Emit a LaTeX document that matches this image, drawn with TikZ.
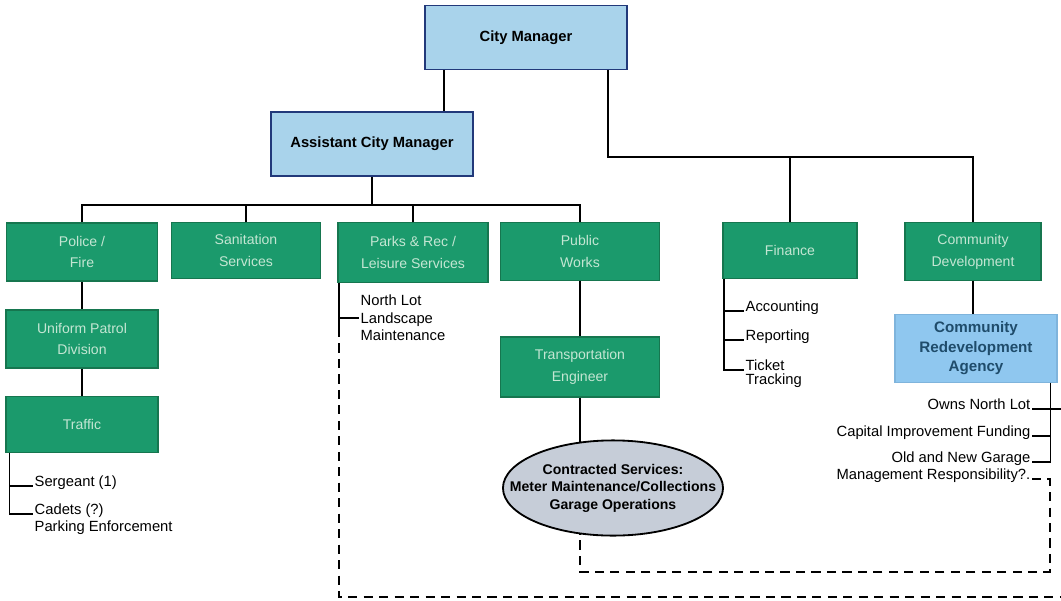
\documentclass[tikz,border=0pt]{standalone}
\usepackage{fontspec}
\setmainfont{Liberation Sans}
\usetikzlibrary{shapes.geometric, positioning, calc}

\definecolor{mgrblue}{HTML}{A9D3EB}
\definecolor{mgrborder}{HTML}{22397A}
\definecolor{deptgreen}{HTML}{1B9A6C}
\definecolor{deptborder}{HTML}{16764F}
\definecolor{depttext}{HTML}{C4E6D3}
\definecolor{agencyblue}{HTML}{8FC7EF}
\definecolor{agencyborder}{HTML}{7FB4DC}
\definecolor{agencytext}{HTML}{1F4C6B}
\definecolor{svcgrey}{HTML}{C6CDD8}

\tikzstyle{manager} = [rectangle, draw=mgrborder, line width=1.2pt, fill=mgrblue, minimum width=5.05cm, minimum height=1.6cm, text centered, font=\fontsize{10.5}{12}\selectfont\bfseries]
\tikzstyle{dept} = [rectangle, draw=deptborder, line width=0.8pt, fill=deptgreen, text=depttext, align=center, font=\fontsize{10}{15.5}\selectfont]
\tikzstyle{agency} = [rectangle, draw=agencyborder, line width=0.8pt, fill=agencyblue, text=agencytext, align=center, font=\fontsize{10.8}{13.8}\selectfont\bfseries]
\tikzstyle{contract} = [ellipse, draw=black, line width=1.3pt, fill=svcgrey, inner xsep=-0.65cm, inner ysep=0pt, align=center, font=\fontsize{10}{12.4}\selectfont\bfseries]
\tikzstyle{item} = [inner sep=1pt, font=\fontsize{10.5}{12.4}\selectfont]
\tikzstyle{conn} = [line width=1.1pt]
\tikzstyle{dashconn} = [line width=1.1pt, dash pattern=on 6.5pt off 4.5pt]

\begin{document}
\begin{tikzpicture}[x=0.025cm, y=-0.025cm]
        \useasboundingbox (0,0) rectangle (1061,600);

        % managers
        \node (cm) [manager] at (526,37.5) {City Manager};
        \node (acm) [manager] at (372,144) {Assistant City Manager};

        % departments
        \node (police) [dept, minimum width=3.78cm, minimum height=1.45cm] at (82,252) {Police /\\Fire};
        \node (sanitation) [dept, minimum width=3.73cm, minimum height=1.38cm] at (246,250.5) {Sanitation\\Services};
        \node (parks) [dept, minimum width=3.75cm, minimum height=1.48cm] at (413,252.5) {Parks \& Rec /\\Leisure Services};
        \node (publicworks) [dept, minimum width=3.98cm, minimum height=1.43cm] at (580,251.5) {Public\\Works};
        \node (finance) [dept, minimum width=3.35cm, minimum height=1.38cm] at (790,250.5) {Finance};
        \node (commdev) [dept, minimum width=3.4cm, minimum height=1.43cm] at (973,251.5) {Community\\Development};

        \node (uniform) [dept, minimum width=3.8cm, minimum height=1.45cm] at (82,339) {Uniform Patrol\\Division};
        \node (traffic) [dept, minimum width=3.8cm, minimum height=1.38cm] at (82,424.5) {Traffic};
        \node (transport) [dept, minimum width=3.98cm, minimum height=1.5cm] at (580,367) {Transportation\\Engineer};
        \node (cra) [agency, minimum width=4.05cm, minimum height=1.68cm] at (976,348.5) {Community\\Redevelopment\\Agency};
        \node (contracted) [contract, minimum width=5.5cm, minimum height=2.38cm] at (613,488) {Contracted Services:\\Meter Maintenance/Collections\\Garage Operations};

        % duties
        \node (sergeant) [item, anchor=base west] at (33,486) {Sergeant (1)};
        \node (cadets) [item, anchor=base west] at (33,514) {Cadets (?)};
        \node (parking) [item, below=0pt of cadets.south west, anchor=north west] {Parking Enforcement};
        \node (northlot) [item, anchor=west, align=left] at (359,318) {North Lot\\Landscape\\Maintenance};
        \node (accounting) [item, anchor=base west] at (744,311) {Accounting};
        \node (reporting) [item, anchor=base west] at (744,340) {Reporting};
        \node (ticket) [item, anchor=base west] at (744,370) {Ticket};
        \node (tracking) [item, below=0pt of ticket.south west, anchor=north west] {Tracking};
        \node (ownslot) [item, anchor=base east] at (1032,409) {Owns North Lot};
        \node (capital) [item, anchor=base east] at (1032,436) {Capital Improvement Funding};
        \node (garage) [item, anchor=base east] at (1032,462) {Old and New Garage};
        \node (mgmt) [item, below=0pt of garage.south east, anchor=north east] {Management Responsibility?.};

        \coordinate (bus1) at (0,205);
        \coordinate (bus2) at (0,157);
        \coordinate (crabus) at ($(cra.south east)+(-7,0)$);
        \coordinate (loopcorner) at (1050,572);
        \coordinate (rightedge) at (1061,597);

        \draw [conn] ($(cm.south west)+(20,0)$) coordinate (cmleft) -- (cmleft |- acm.north);
        \draw [conn] ($(cm.south east)+(-20,0)$) |- (commdev.north |- bus2) -- (commdev.north);
        \draw [conn] (finance.north) -- (finance.north |- bus2);
        \draw [conn] (acm.south) -- (acm.south |- bus1);
        \draw [conn] (police.north) |- (publicworks.north |- bus1) -- (publicworks.north);
        \draw [conn] (sanitation.north) -- (sanitation.north |- bus1);
        \draw [conn] (parks.north) -- (parks.north |- bus1);

        \draw [conn] (police) -- (uniform);
        \draw [conn] (uniform) -- (traffic);
        \draw [conn] ([xshift=3]traffic.south west) |- (cadets.base west);
        \draw [conn] ([xshift=3]traffic.south west |- sergeant.base west) -- (sergeant.base west);

        \draw [conn] ([xshift=1]parks.south west) coordinate (parksleft) -- (parksleft |- northlot.west) -- (northlot.west);
        \draw [conn] (parksleft |- northlot.west) -- ++(0,10);
        \draw [dashconn] ($(parksleft |- northlot.west)+(0,10)$) -- (parksleft |- rightedge) -- (rightedge);

        \draw [conn] (publicworks) -- (transport);
        \draw [conn] (transport.south) -- ($(transport.south |- contracted.north)+(0,3)$);

        \draw [conn] ([xshift=1]finance.south west) coordinate (finleft) |- (ticket.base west);
        \draw [conn] (finleft |- accounting.base west) -- (accounting.base west);
        \draw [conn] (finleft |- reporting.base west) -- (reporting.base west);

        \draw [conn] (commdev.south) -- (commdev.south |- cra.north);
        \draw [conn] (crabus) |- (garage.base east);
        \draw [conn] (ownslot.base east) -- (ownslot.base east -| rightedge);
        \draw [conn] (capital.base east) -- (capital.base east -| crabus);
        \draw [dashconn] (mgmt.base east) -| (loopcorner) -| ($(contracted.south -| transport.south)+(0,-3)$);
\end{tikzpicture}
\end{document}
